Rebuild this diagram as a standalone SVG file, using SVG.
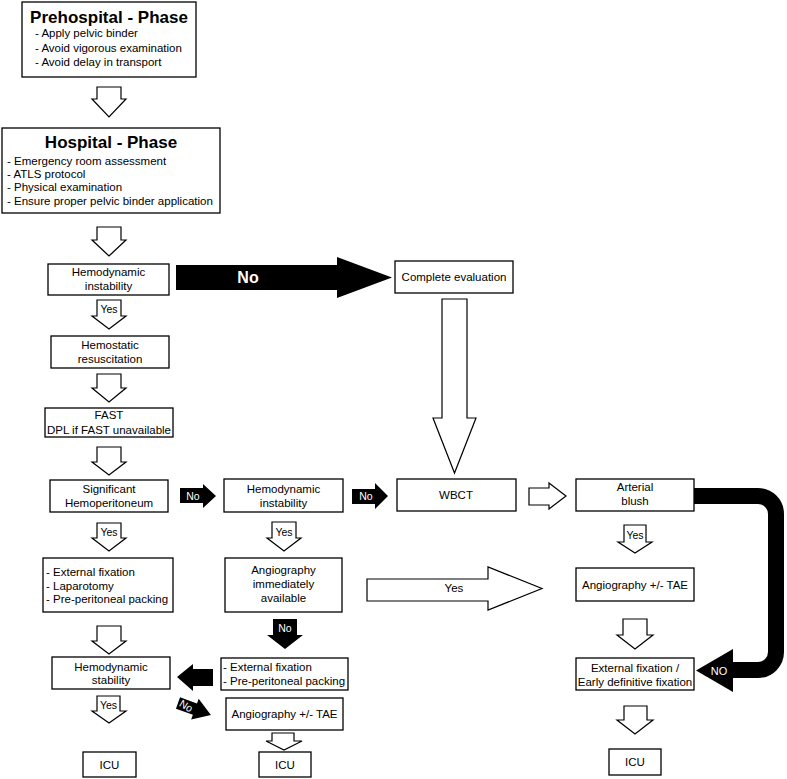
<svg xmlns="http://www.w3.org/2000/svg" width="787" height="779" viewBox="0 0 787 779">
<style>
text{font-family:"Liberation Sans",Arial,sans-serif;font-size:11.5px;fill:#000}
.c{text-anchor:middle}
.t{font-size:17px;font-weight:bold}
.w{fill:#fff}
.s{font-size:10.5px}
rect{fill:#fff;stroke:#000;stroke-width:1.3}
.h{fill:#fff;stroke:#000;stroke-width:1.2;stroke-linejoin:miter}
.b{fill:#000;stroke:none}
</style>
<rect width="787" height="779" style="fill:#fff;stroke:none"/>
<g id="prehospital"><rect x="22" y="2" width="174" height="75"/>
<text class="c t" x="109" y="23">Prehospital - Phase</text>
<text x="35" y="37">- Apply pelvic binder</text><text x="35" y="51.5">- Avoid vigorous examination</text><text x="35" y="66">- Avoid delay in transport</text></g>
<g id="hospital"><rect x="2" y="128" width="218" height="85"/>
<text class="c t" x="111" y="148">Hospital - Phase</text>
<text x="7" y="164.5">- Emergency room assessment</text><text x="7" y="178">- ATLS protocol</text><text x="7" y="191.3">- Physical examination</text><text x="7" y="204.6">- Ensure proper pelvic binder application</text></g>
<g id="hemo1"><rect x="48" y="264" width="121" height="31"/><text class="c" x="108.5" y="276">Hemodynamic</text><text class="c" x="108.5" y="290">instability</text></g>
<g id="hemostatic"><rect x="51" y="336" width="118" height="32"/><text class="c" x="110" y="349">Hemostatic</text><text class="c" x="110" y="363">resuscitation</text></g>
<g id="fast"><rect x="45" y="408" width="128" height="29"/><text class="c" x="109" y="419">FAST</text><text class="c" x="109" y="434">DPL if FAST unavailable</text></g>
<g id="hemoperit"><rect x="50" y="480" width="118" height="32"/><text class="c" x="109" y="493">Significant</text><text class="c" x="109" y="507">Hemoperitoneum</text></g>
<g id="extfix1"><rect x="43" y="558" width="130" height="54"/><text x="46" y="576">- External fixation</text><text x="46" y="589.5">- Laparotomy</text><text x="46" y="603">- Pre-peritoneal packing</text></g>
<g id="stability"><rect x="52" y="657" width="118" height="32"/><text class="c" x="111" y="671">Hemodynamic</text><text class="c" x="111" y="684">stability</text></g>
<g id="icu1"><rect x="83" y="752" width="53" height="25"/><text class="c" x="109.5" y="769">ICU</text></g>
<g id="hemo2"><rect x="224" y="479" width="119" height="33"/><text class="c" x="283.5" y="493">Hemodynamic</text><text class="c" x="283.5" y="507">instability</text></g>
<g id="angioavail"><rect x="225" y="558" width="117" height="54"/><text class="c" x="283.5" y="574">Angiography</text><text class="c" x="283.5" y="588">immediately</text><text class="c" x="283.5" y="601.5">available</text></g>
<g id="extfix2"><rect x="221" y="658" width="127" height="32"/><text x="223" y="671">- External fixation</text><text x="223" y="685">- Pre-peritoneal packing</text></g>
<g id="angio2"><rect x="226" y="698" width="117" height="32"/><text class="c" x="284.5" y="718">Angiography +/- TAE</text></g>
<g id="icu2"><rect x="259" y="752" width="52" height="25"/><text class="c" x="285" y="769">ICU</text></g>
<g id="complete"><rect x="395" y="261" width="118" height="32"/><text class="c" x="454" y="281">Complete evaluation</text></g>
<g id="wbct"><rect x="397" y="479" width="119" height="32"/><text class="c" x="456" y="499">WBCT</text></g>
<g id="blush"><rect x="576" y="479" width="118" height="32"/><text class="c" x="635" y="491">Arterial</text><text class="c" x="635" y="505">blush</text></g>
<g id="angio3"><rect x="576" y="568" width="118" height="33"/><text class="c" x="635" y="589">Angiography +/- TAE</text></g>
<g id="extfix3"><rect x="576" y="658" width="118" height="32"/><text class="c" x="635" y="672">External fixation /</text><text class="c" x="635" y="686">Early definitive fixation</text></g>
<g id="icu3"><rect x="609" y="749" width="52" height="26"/><text class="c" x="635" y="766">ICU</text></g>
<g id="connectors">
<polygon class="h" points="97,87 121,87 121,99 126,99 109,117 92,99 97,99"/>
<polygon class="h" points="97,227 121,227 121,240 126,240 109,256 92,240 97,240"/>
<polygon class="h" points="97,300 121,300 121,316 126,316 109,329 92,316 97,316"/><text class="c s" x="109" y="313">Yes</text>
<polygon class="h" points="97,374 121,374 121,388 126,388 109,402 92,388 97,388"/>
<polygon class="h" points="97,447 121,447 121,462 126,462 109,475 92,462 97,462"/>
<polygon class="h" points="97,523 121,523 121,538 126,538 109,551 92,538 97,538"/><text class="c s" x="109" y="536">Yes</text>
<polygon class="h" points="97,626 121,626 121,641 126,641 109,654 92,641 97,641"/>
<polygon class="h" points="97,696 120,696 120,711 126,711 109,723 92,711 97,711"/><text class="c s" x="108.5" y="709">Yes</text>
<polygon class="h" points="272,522 296,522 296,538 301,538 284,551 267,538 272,538"/><text class="c s" x="284" y="536">Yes</text>
<polygon class="b" points="273,619 297,619 297,635 303,635 285,649 267,635 273,635"/><text class="c s w" x="285" y="632">No</text>
<polygon class="h" points="272,733 294,733 294,741 302,741 284,750 266,741 272,741"/>
<polygon class="h" points="624,525 646,525 646,542 652,542 635,553 618,542 624,542"/><text class="c s" x="635" y="539">Yes</text>
<polygon class="h" points="623,619 647,619 647,635 653,635 635,649 617,635 623,635"/>
<polygon class="h" points="624,706 647,706 647,720 653,720 635,734 617,720 624,720"/>
<polygon class="h" points="442,299 467,299 467,418 476,418 454.5,473 433,418 442,418"/>
<polygon class="b" points="176,265 337,265 337,257 392,277.5 337,298 337,290 176,290"/><text class="c w" x="248" y="283" style="font-size:16px;font-weight:bold">No</text>
<polygon class="b" points="180,488 203,488 203,484 216,496 203,508 203,503 180,503"/><text class="c s w" x="193" y="500">No</text>
<polygon class="b" points="352,489 375,489 375,483 388,496 375,509 375,504 352,504"/><text class="c s w" x="366" y="500">No</text>
<polygon class="h" points="529,488 549,488 549,483 566,496 549,509 549,505 529,505"/>
<polygon class="h" points="367,579 488,579 488,567 542,588.5 488,610 488,601 367,601"/><text class="c" x="454" y="592">Yes</text>
<polygon class="b" points="213,669 193,669 193,664 177,677 193,691 193,686 213,686"/>
<g transform="translate(178,703) rotate(20)"><polygon class="b" points="0,-6 18,-6 18,-11 35,0 18,11 18,6 0,6"/><text class="s w" x="2" y="3.5" transform="rotate(12 8 0)">No</text></g>
<path d="M694,496 H758 A18,18 0 0 1 776,514 V652 A18,18 0 0 1 758,670 H728" fill="none" stroke="#000" stroke-width="16"/>
<polygon class="b" points="733,649 733,692 696,670.5"/><text class="c w" x="719" y="675" style="font-size:11px">NO</text>
</g>
</svg>
